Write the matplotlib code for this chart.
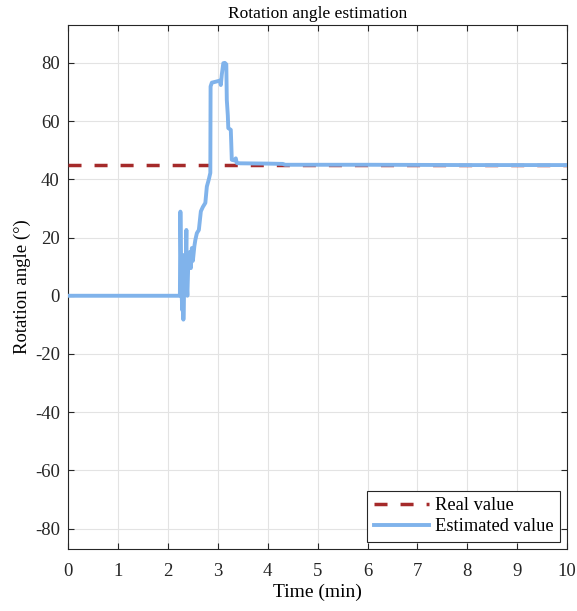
import matplotlib
matplotlib.use("Agg")
import matplotlib.pyplot as plt

# estimated rotation angle (time in min, angle in degrees)
t_est = [0.0, 2.24, 2.25, 2.27, 2.29, 2.30, 2.31, 2.33, 2.35, 2.37, 2.38, 2.39,
         2.41, 2.44, 2.46, 2.48, 2.50, 2.53, 2.55, 2.58, 2.62, 2.66, 2.70, 2.75,
         2.78, 2.82, 2.85, 2.855, 2.88, 2.95, 3.04, 3.06, 3.08, 3.11, 3.14, 3.17,
         3.18, 3.20, 3.21, 3.26, 3.27, 3.28, 3.33, 3.36, 3.38, 3.45, 4.0, 4.3,
         4.35, 6.0, 8.0, 10.0]
angle_est = [0.0, 0.0, 28.9, 2.0, -5.0, 14.0, -8.2, 10.0, 5.0, 22.6, 3.0, 0.0,
             12.0, 15.0, 9.5, 16.4, 12.0, 17.0, 19.2, 21.5, 22.6, 29.0, 30.5, 31.9,
             37.5, 40.0, 42.2, 71.9, 73.2, 73.5, 73.9, 72.4, 76.0, 79.9, 80.0, 79.5,
             67.3, 62.0, 57.6, 57.0, 52.0, 46.7, 46.5, 47.2, 45.6, 45.5, 45.4, 45.3,
             45.0, 45.0, 44.9, 44.9]

t_real = [0.0, 10.0]
angle_real = [45.0, 45.0]

xticks = list(range(0, 11))
yticks = list(range(-80, 81, 20))

plt.rcParams['font.family'] = ['Liberation Serif', 'DejaVu Serif']
plt.rcParams['axes.unicode_minus'] = False

fig = plt.figure(figsize=(5.77, 6.11), dpi=100)
ax = fig.add_axes([0.118, 0.1015, 0.865, 0.8575])

ax.plot(t_real, angle_real, linestyle=(0, (3.75, 3.75)), color='#A52A2A', linewidth=2.5,
        label='Real value', zorder=3)
ax.plot(t_est, angle_est, color='#80B3EB', linewidth=2.8, label='Estimated value', zorder=4)

ax.set_xlim(0, 10)
ax.set_ylim(-87, 93)
ax.set_xticks(xticks)
ax.set_yticks(yticks)
ax.tick_params(direction='in', length=4, labelsize=13.5, top=True, right=True,
               colors='#262626', labelcolor='#262626')
ax.tick_params(axis='x', pad=10)
ax.tick_params(axis='y', pad=6)
ax.grid(True, color='#E3E3E3', linewidth=0.8)
ax.set_axisbelow(True)
for s in ax.spines.values():
    s.set_color('#262626')
    s.set_linewidth(0.8)

ax.set_title('Rotation angle estimation', fontsize=12.5, pad=5)
ax.set_xlabel('Time (min)', fontsize=14, labelpad=3)
ax.set_ylabel('Rotation angle (°)', fontsize=13.5, labelpad=3)

leg = ax.legend(loc='lower right', fontsize=13.3, fancybox=False, framealpha=1,
                edgecolor='#262626', borderpad=0.35, handlelength=3.0,
                labelspacing=0.2, handletextpad=0.3, borderaxespad=0.4)
leg.get_frame().set_linewidth(0.8)

fig.savefig('out.png', dpi=100)
